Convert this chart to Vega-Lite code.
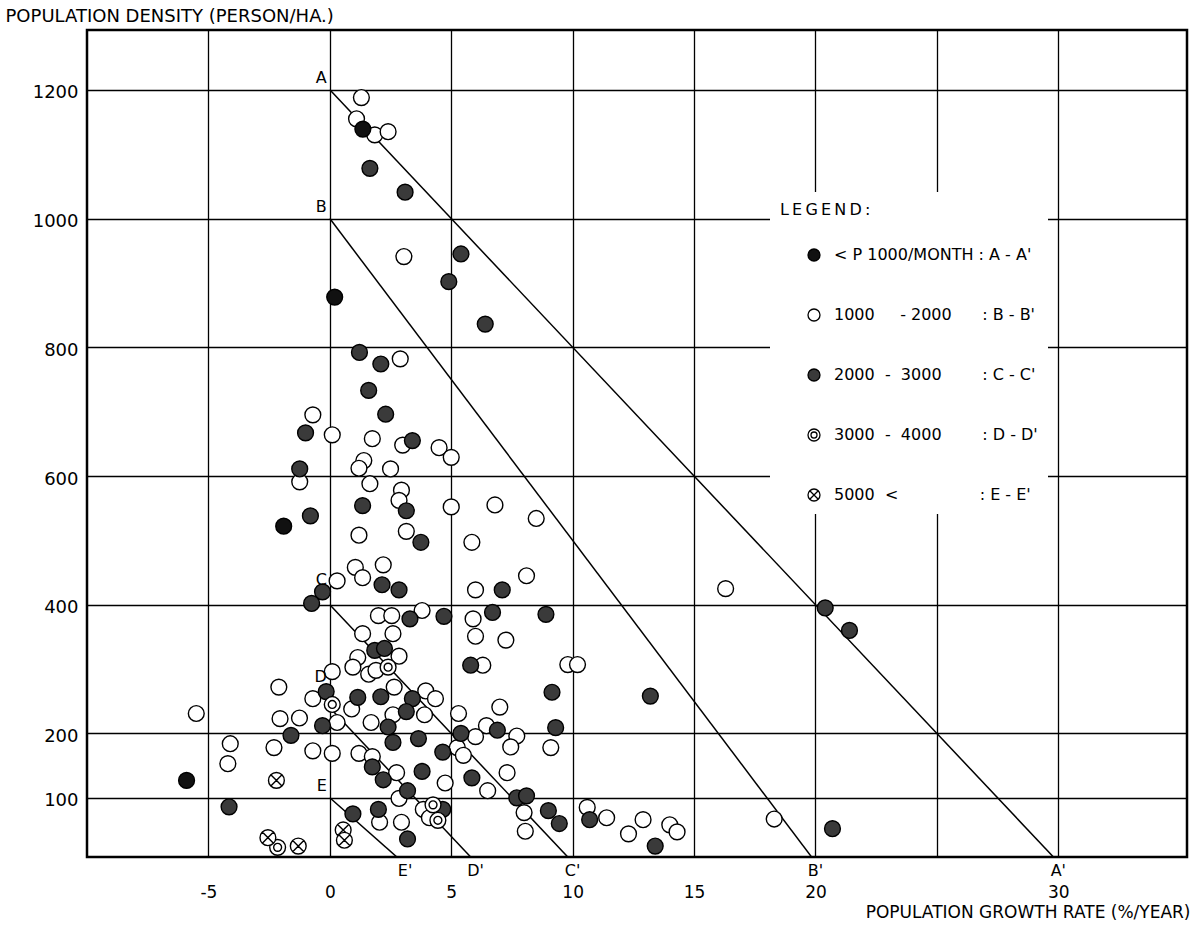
{
  "$schema": "https://vega.github.io/schema/vega-lite/v6.json",
  "width": 1100,
  "height": 827,
  "autosize": {"type": "none"},
  "padding": {"left": 87, "top": 30, "right": 10, "bottom": 80},
  "background": "white",
  "config": {
    "font": "DejaVu Sans",
    "view": {"stroke": "black", "strokeWidth": 2.5},
    "axis": {
      "grid": true, "gridColor": "black", "gridOpacity": 1, "gridWidth": 1.3,
      "domain": false, "ticks": false, "tickSize": 0,
      "labelColor": "black", "titleColor": "black",
      "labelFont": "DejaVu Sans", "titleFont": "DejaVu Sans", "titleFontWeight": "normal"
    },
    "legend": {
      "orient": "none", "legendX": 683, "legendY": 162,
      "fillColor": "white", "padding": 10,
      "titleFontSize": 16, "titleFontWeight": "normal", "titleColor": "black", "titlePadding": 29,
      "labelFontSize": 16, "labelColor": "black", "labelLimit": 500,
      "symbolSize": 144, "symbolStrokeWidth": 1.3, "symbolOpacity": 1,
      "symbolOffset": 26, "labelOffset": 12, "rowPadding": 42
    }
  },
  "datasets": {
    "lines": [
      {"line": "A", "x": 0, "y": 1200}, {"line": "A", "x": 30, "y": 0},
      {"line": "B", "x": 0, "y": 1000}, {"line": "B", "x": 20, "y": 0},
      {"line": "C", "x": 0, "y": 400}, {"line": "C", "x": 10, "y": 0},
      {"line": "D", "x": 0, "y": 240}, {"line": "D", "x": 6, "y": 0},
      {"line": "E", "x": 0, "y": 100}, {"line": "E", "x": 3, "y": 0}
    ],
    "starts": [
      {"lab": "A", "x": 0, "y": 1200},
      {"lab": "B", "x": 0, "y": 1000},
      {"lab": "C", "x": 0, "y": 420},
      {"lab": "D", "x": 0, "y": 269},
      {"lab": "E", "x": 0, "y": 100}
    ],
    "ends": [
      {"lab": "E'", "x": 3.1, "y": 0},
      {"lab": "D'", "x": 6.0, "y": 0},
      {"lab": "C'", "x": 10, "y": 0},
      {"lab": "B'", "x": 20, "y": 0},
      {"lab": "A'", "x": 30, "y": 0}
    ],
    "pts": [
      {"x": 1.3, "y": 1188, "c": "o"}, {"x": 1.1, "y": 1155, "c": "o"}, {"x": 1.85, "y": 1130, "c": "o"}, {"x": 2.4, "y": 1135, "c": "o"},
      {"x": 3.05, "y": 941, "c": "o"}, {"x": -0.7, "y": 695, "c": "o"}, {"x": 0.1, "y": 664, "c": "o"}, {"x": -1.24, "y": 591, "c": "o"},
      {"x": 0.3, "y": 437, "c": "o"}, {"x": 2.9, "y": 782, "c": "o"}, {"x": 1.75, "y": 658, "c": "o"}, {"x": 3.0, "y": 648, "c": "o"},
      {"x": 4.5, "y": 644, "c": "o"}, {"x": 5.0, "y": 629, "c": "o"}, {"x": 1.4, "y": 624, "c": "o"}, {"x": 1.2, "y": 612, "c": "o"},
      {"x": 2.5, "y": 611, "c": "o"}, {"x": 1.65, "y": 588, "c": "o"}, {"x": 2.95, "y": 578, "c": "o"}, {"x": 2.85, "y": 562, "c": "o"},
      {"x": 5.0, "y": 552, "c": "o"}, {"x": 6.8, "y": 555, "c": "o"}, {"x": 8.5, "y": 534, "c": "o"}, {"x": 1.2, "y": 508, "c": "o"},
      {"x": 3.15, "y": 514, "c": "o"}, {"x": 5.85, "y": 497, "c": "o"}, {"x": 1.05, "y": 458, "c": "o"}, {"x": 2.2, "y": 462, "c": "o"},
      {"x": 1.35, "y": 442, "c": "o"}, {"x": 8.1, "y": 445, "c": "o"}, {"x": 6.0, "y": 423, "c": "o"}, {"x": 16.3, "y": 425, "c": "o"},
      {"x": 9.8, "y": 307, "c": "o"}, {"x": 10.2, "y": 307, "c": "o"}, {"x": 0.1, "y": 296, "c": "o"}, {"x": -2.1, "y": 272, "c": "o"},
      {"x": -0.7, "y": 254, "c": "o"}, {"x": -5.5, "y": 231, "c": "o"}, {"x": -2.05, "y": 223, "c": "o"}, {"x": -1.25, "y": 224, "c": "o"},
      {"x": -4.1, "y": 184, "c": "o"}, {"x": -2.3, "y": 178, "c": "o"}, {"x": -0.7, "y": 173, "c": "o"}, {"x": 0.1, "y": 169, "c": "o"},
      {"x": -4.2, "y": 153, "c": "o"}, {"x": 2.0, "y": 383, "c": "o"}, {"x": 2.55, "y": 383, "c": "o"}, {"x": 3.8, "y": 391, "c": "o"},
      {"x": 1.35, "y": 355, "c": "o"}, {"x": 2.6, "y": 355, "c": "o"}, {"x": 2.85, "y": 320, "c": "o"}, {"x": 1.15, "y": 318, "c": "o"},
      {"x": 0.95, "y": 303, "c": "o"}, {"x": 1.6, "y": 292, "c": "o"}, {"x": 1.9, "y": 298, "c": "o"}, {"x": 2.65, "y": 272, "c": "o"},
      {"x": 3.95, "y": 266, "c": "o"}, {"x": 4.35, "y": 254, "c": "o"}, {"x": 0.9, "y": 238, "c": "o"}, {"x": 2.6, "y": 229, "c": "o"},
      {"x": 3.9, "y": 229, "c": "o"}, {"x": 5.3, "y": 231, "c": "o"}, {"x": 0.3, "y": 217, "c": "o"}, {"x": 1.7, "y": 217, "c": "o"},
      {"x": 5.25, "y": 178, "c": "o"}, {"x": 1.2, "y": 169, "c": "o"}, {"x": 1.75, "y": 164, "c": "o"}, {"x": 2.75, "y": 139, "c": "o"},
      {"x": 4.75, "y": 123, "c": "o"}, {"x": 2.85, "y": 99, "c": "o"}, {"x": 2.05, "y": 62, "c": "o"}, {"x": 2.95, "y": 62, "c": "o"},
      {"x": 3.85, "y": 82, "c": "o"}, {"x": 4.1, "y": 69, "c": "o"}, {"x": 5.9, "y": 378, "c": "o"}, {"x": 6.0, "y": 351, "c": "o"},
      {"x": 7.25, "y": 345, "c": "o"}, {"x": 6.3, "y": 306, "c": "o"}, {"x": 7.0, "y": 241, "c": "o"}, {"x": 6.45, "y": 212, "c": "o"},
      {"x": 6.0, "y": 195, "c": "o"}, {"x": 7.7, "y": 196, "c": "o"}, {"x": 7.45, "y": 179, "c": "o"}, {"x": 9.1, "y": 178, "c": "o"},
      {"x": 5.5, "y": 166, "c": "o"}, {"x": 7.3, "y": 139, "c": "o"}, {"x": 6.5, "y": 111, "c": "o"}, {"x": 8.0, "y": 77, "c": "o"},
      {"x": 8.05, "y": 48, "c": "o"}, {"x": 10.6, "y": 85, "c": "o"}, {"x": 11.4, "y": 69, "c": "o"}, {"x": 12.3, "y": 44, "c": "o"},
      {"x": 12.9, "y": 66, "c": "o"}, {"x": 14.0, "y": 58, "c": "o"}, {"x": 14.3, "y": 47, "c": "o"}, {"x": 18.3, "y": 67, "c": "o"},
      {"x": 1.36, "y": 1139, "c": "a"}, {"x": -5.9, "y": 127, "c": "a"}, {"x": -1.9, "y": 522, "c": "a"}, {"x": 0.2, "y": 878, "c": "a"},
      {"x": 1.65, "y": 1078, "c": "d"}, {"x": 3.1, "y": 1041, "c": "d"}, {"x": 5.4, "y": 945, "c": "d"}, {"x": 4.9, "y": 902, "c": "d"},
      {"x": 6.4, "y": 836, "c": "d"}, {"x": -1.0, "y": 667, "c": "d"}, {"x": -1.24, "y": 611, "c": "d"}, {"x": -0.8, "y": 538, "c": "d"},
      {"x": -0.3, "y": 420, "c": "d"}, {"x": -0.75, "y": 402, "c": "d"}, {"x": 1.22, "y": 792, "c": "d"}, {"x": 2.1, "y": 774, "c": "d"},
      {"x": 1.6, "y": 733, "c": "d"}, {"x": 2.3, "y": 696, "c": "d"}, {"x": 3.4, "y": 655, "c": "d"}, {"x": 1.35, "y": 554, "c": "d"},
      {"x": 3.15, "y": 546, "c": "d"}, {"x": 3.75, "y": 497, "c": "d"}, {"x": 2.15, "y": 431, "c": "d"}, {"x": 2.85, "y": 423, "c": "d"},
      {"x": 7.1, "y": 423, "c": "d"}, {"x": 8.9, "y": 385, "c": "d"}, {"x": 20.4, "y": 395, "c": "d"}, {"x": 21.4, "y": 360, "c": "d"},
      {"x": -0.15, "y": 265, "c": "d"}, {"x": -0.3, "y": 212, "c": "d"}, {"x": -1.6, "y": 197, "c": "d"}, {"x": -4.15, "y": 86, "c": "d"},
      {"x": 3.3, "y": 378, "c": "d"}, {"x": 4.7, "y": 382, "c": "d"}, {"x": 1.85, "y": 329, "c": "d"}, {"x": 2.25, "y": 332, "c": "d"},
      {"x": 1.15, "y": 256, "c": "d"}, {"x": 2.1, "y": 257, "c": "d"}, {"x": 3.4, "y": 254, "c": "d"}, {"x": 3.15, "y": 234, "c": "d"},
      {"x": 2.4, "y": 210, "c": "d"}, {"x": 2.6, "y": 186, "c": "d"}, {"x": 3.65, "y": 192, "c": "d"}, {"x": 5.4, "y": 200, "c": "d"},
      {"x": 4.65, "y": 171, "c": "d"}, {"x": 1.75, "y": 148, "c": "d"}, {"x": 2.2, "y": 128, "c": "d"}, {"x": 3.8, "y": 141, "c": "d"},
      {"x": 3.2, "y": 111, "c": "d"}, {"x": 0.95, "y": 75, "c": "d"}, {"x": 2.0, "y": 82, "c": "d"}, {"x": 4.65, "y": 82, "c": "d"},
      {"x": 3.2, "y": 36, "c": "d"}, {"x": 6.7, "y": 388, "c": "d"}, {"x": 5.8, "y": 306, "c": "d"}, {"x": 9.15, "y": 264, "c": "d"},
      {"x": 6.9, "y": 205, "c": "d"}, {"x": 9.3, "y": 209, "c": "d"}, {"x": 5.85, "y": 131, "c": "d"}, {"x": 7.7, "y": 100, "c": "d"},
      {"x": 8.1, "y": 103, "c": "d"}, {"x": 9.0, "y": 80, "c": "d"}, {"x": 9.45, "y": 60, "c": "d"}, {"x": 10.7, "y": 66, "c": "d"},
      {"x": 13.2, "y": 258, "c": "d"}, {"x": 13.4, "y": 25, "c": "d"}, {"x": 20.7, "y": 52, "c": "d"},
      {"x": 0.1, "y": 245, "c": "w"}, {"x": -2.15, "y": 23, "c": "w"}, {"x": 4.25, "y": 89, "c": "w"}, {"x": 4.45, "y": 65, "c": "w"},
      {"x": 2.4, "y": 303, "c": "w"},
      {"x": -2.2, "y": 127, "c": "x"}, {"x": -2.55, "y": 38, "c": "x"}, {"x": -1.3, "y": 25, "c": "x"}, {"x": 0.55, "y": 50, "c": "x"},
      {"x": 0.6, "y": 34, "c": "x"}
    ]
  },
  "layer": [
    {
      "data": {"name": "lines"},
      "mark": {"type": "line", "color": "black", "strokeWidth": 1.5, "clip": true},
      "encoding": {
        "x": {
          "field": "x", "type": "quantitative",
          "scale": {"domain": [-10, 35.3], "nice": false, "zero": false},
          "axis": {
            "values": [-5, 0, 5, 10, 15, 20, 25, 30],
            "labelExpr": "datum.value == 25 ? '' : '' + datum.value",
            "labelFontSize": 17, "labelPadding": 27, "labelBaseline": "top",
            "title": "POPULATION GROWTH RATE (%/YEAR)", "titleFontSize": 17,
            "titleX": 1103, "titleY": 55, "titleAlign": "right", "titleBaseline": "middle", "titleAnchor": null
          }
        },
        "y": {
          "field": "y", "type": "quantitative",
          "scale": {"domain": [8, 1293], "nice": false, "zero": false},
          "axis": {
            "values": [100, 200, 400, 600, 800, 1000, 1200],
            "format": "d",
            "labelFontSize": 18, "labelPadding": 9, "labelOffset": 3,
            "title": "POPULATION DENSITY (PERSON/HA.)", "titleFontSize": 18, "titleAngle": 0,
            "titleX": -82, "titleY": -14, "titleAlign": "left", "titleBaseline": "middle", "titleAnchor": null
          }
        },
        "detail": {"field": "line", "type": "nominal"}
      }
    },
    {
      "data": {"name": "pts"},
      "mark": {"type": "point", "filled": true, "size": 250, "opacity": 1, "strokeWidth": 1.4},
      "encoding": {
        "x": {"field": "x", "type": "quantitative"},
        "y": {"field": "y", "type": "quantitative"},
        "stroke": {
          "field": "c", "type": "nominal", "title": "L\u2009E\u2009G\u2009E\u2009N\u2009D\u2009:",
          "scale": {"domain": ["a", "o", "d", "w", "x"], "range": ["#000000", "#000000", "#000000", "#000000", "#000000"]},
          "legend": {
            "title": "L\u2009E\u2009G\u2009E\u2009N\u2009D\u2009:",
            "labelExpr": "datum.label == 'a' ? \"< P 1000/MONTH\u00a0: A - A'\" : datum.label == 'o' ? \"1000\u00a0\u00a0\u00a0\u00a0\u00a0- 2000\u00a0\u00a0\u00a0\u00a0\u00a0\u00a0: B - B'\" : datum.label == 'd' ? \"2000\u00a0\u00a0-\u00a0\u00a03000\u00a0\u00a0\u00a0\u00a0\u00a0\u00a0\u00a0\u00a0: C - C'\" : datum.label == 'w' ? \"3000\u00a0\u00a0-\u00a0\u00a04000\u00a0\u00a0\u00a0\u00a0\u00a0\u00a0\u00a0\u00a0: D - D'\" : \"5000\u00a0\u00a0<\u00a0\u00a0\u00a0\u00a0\u00a0\u00a0\u00a0\u00a0\u00a0\u00a0\u00a0\u00a0\u00a0\u00a0\u00a0\u00a0: E - E'\""
          }
        },
        "fill": {
          "field": "c", "type": "nominal", "title": "L\u2009E\u2009G\u2009E\u2009N\u2009D\u2009:",
          "scale": {"domain": ["a", "o", "d", "w", "x"], "range": ["#111111", "#ffffff", "#3a3a3a", "#ffffff", "#ffffff"]},
          "legend": {
            "title": "L\u2009E\u2009G\u2009E\u2009N\u2009D\u2009:",
            "labelExpr": "datum.label == 'a' ? \"< P 1000/MONTH\u00a0: A - A'\" : datum.label == 'o' ? \"1000\u00a0\u00a0\u00a0\u00a0\u00a0- 2000\u00a0\u00a0\u00a0\u00a0\u00a0\u00a0: B - B'\" : datum.label == 'd' ? \"2000\u00a0\u00a0-\u00a0\u00a03000\u00a0\u00a0\u00a0\u00a0\u00a0\u00a0\u00a0\u00a0: C - C'\" : datum.label == 'w' ? \"3000\u00a0\u00a0-\u00a0\u00a04000\u00a0\u00a0\u00a0\u00a0\u00a0\u00a0\u00a0\u00a0: D - D'\" : \"5000\u00a0\u00a0<\u00a0\u00a0\u00a0\u00a0\u00a0\u00a0\u00a0\u00a0\u00a0\u00a0\u00a0\u00a0\u00a0\u00a0\u00a0\u00a0: E - E'\""
          }
        },
        "shape": {
          "field": "c", "type": "nominal", "title": "L\u2009E\u2009G\u2009E\u2009N\u2009D\u2009:",
          "scale": {
            "domain": ["a", "o", "d", "w", "x"],
            "range": [
              "M-1,0A1,1,0,1,1,1,0A1,1,0,1,1,-1,0Z",
              "M-1,0A1,1,0,1,1,1,0A1,1,0,1,1,-1,0Z",
              "M-1,0A1,1,0,1,1,1,0A1,1,0,1,1,-1,0Z",
              "M-1,0A1,1,0,1,1,1,0A1,1,0,1,1,-1,0ZM-0.5,0A0.5,0.5,0,1,1,0.5,0A0.5,0.5,0,1,1,-0.5,0Z",
              "M-1,0A1,1,0,1,1,1,0A1,1,0,1,1,-1,0ZM-0.707,-0.707L0.707,0.707M-0.707,0.707L0.707,-0.707"
            ]
          },
          "legend": {
            "title": "L\u2009E\u2009G\u2009E\u2009N\u2009D\u2009:",
            "labelExpr": "datum.label == 'a' ? \"< P 1000/MONTH\u00a0: A - A'\" : datum.label == 'o' ? \"1000\u00a0\u00a0\u00a0\u00a0\u00a0- 2000\u00a0\u00a0\u00a0\u00a0\u00a0\u00a0: B - B'\" : datum.label == 'd' ? \"2000\u00a0\u00a0-\u00a0\u00a03000\u00a0\u00a0\u00a0\u00a0\u00a0\u00a0\u00a0\u00a0: C - C'\" : datum.label == 'w' ? \"3000\u00a0\u00a0-\u00a0\u00a04000\u00a0\u00a0\u00a0\u00a0\u00a0\u00a0\u00a0\u00a0: D - D'\" : \"5000\u00a0\u00a0<\u00a0\u00a0\u00a0\u00a0\u00a0\u00a0\u00a0\u00a0\u00a0\u00a0\u00a0\u00a0\u00a0\u00a0\u00a0\u00a0: E - E'\""
          }
        }
      }
    },
    {
      "data": {"name": "starts"},
      "mark": {"type": "text", "align": "right", "baseline": "bottom", "dx": -3, "dy": -4, "fontSize": 16, "color": "black"},
      "encoding": {
        "x": {"field": "x", "type": "quantitative"},
        "y": {"field": "y", "type": "quantitative"},
        "text": {"field": "lab"}
      }
    },
    {
      "data": {"name": "ends"},
      "mark": {"type": "text", "align": "center", "baseline": "top", "dy": 1, "fontSize": 16, "color": "black"},
      "encoding": {
        "x": {"field": "x", "type": "quantitative"},
        "y": {"field": "y", "type": "quantitative"},
        "text": {"field": "lab"}
      }
    }
  ]
}
